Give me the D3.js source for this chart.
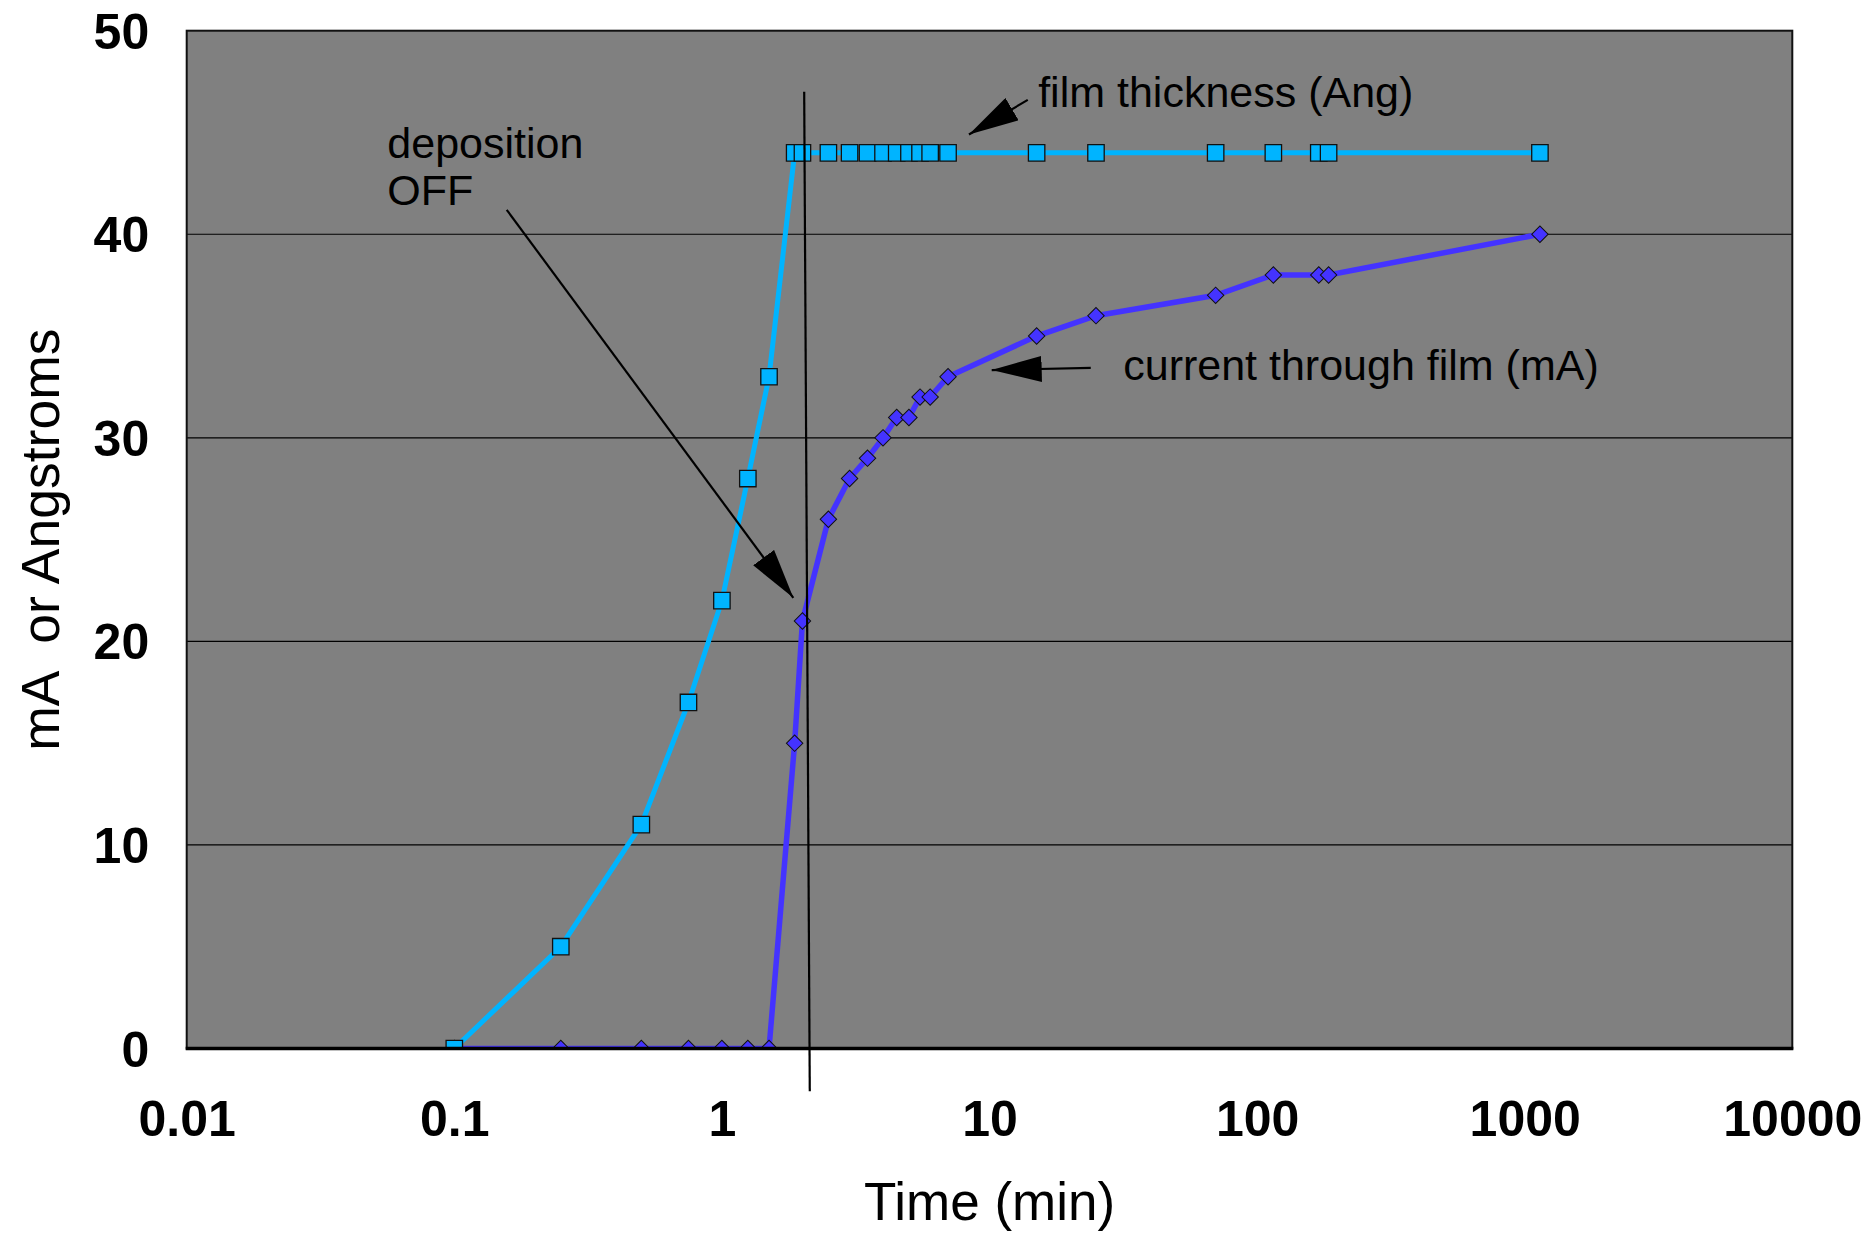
<!DOCTYPE html>
<html>
<head>
<meta charset="utf-8">
<script src="https://cdn.jsdelivr.net/npm/d3@7"></script>
<style>
  body { margin: 0; background: #fff; }
  svg text { font-family: Arial, "Liberation Sans", sans-serif; }
</style>
</head>
<body>
<div id="chart"></div>
<script>
// time in minutes, shared by both series
const times = [0.1, 0.25, 0.5, 0.75, 1, 1.25, 1.5, 1.87, 2, 2.5, 3, 3.5, 4, 4.5, 5, 5.5, 6, 7, 15, 25, 70, 115, 170, 185, 1140];
const thickness = [0, 5, 11, 17, 22, 28, 33, 44, 44, 44, 44, 44, 44, 44, 44, 44, 44, 44, 44, 44, 44, 44, 44, 44, 44];
const current = [0, 0, 0, 0, 0, 0, 0, 15, 21, 26, 28, 29, 30, 31, 31, 32, 32, 33, 35, 36, 37, 38, 38, 38, 40];

const xTicks = [0.01, 0.1, 1, 10, 100, 1000, 10000];
const yTicks = [0, 10, 20, 30, 40, 50];

// annotation anchors in data units (time, value)
const depositionLine = [[2.03, 47], [2.13, -2.1]];
const arrows = [
  [[0.157, 41.2], [1.849, 22.14]],
  [[13.9, 46.6], [8.38, 44.9]],
  [[23.9, 33.44], [10.19, 33.33]],
];
const labels = [
  { t: 0.0562, v: 43.74, text: 'deposition' },
  { t: 0.0562, v: 41.43, text: 'OFF' },
  { t: 15.2, v: 46.23, text: 'film thickness (Ang)' },
  { t: 31.6, v: 32.83, text: 'current through film (mA)' },
];

const width = 1873;
const height = 1233;
const margin = { top: 30.7, right: 80.7, bottom: 184.5, left: 186.7 };
const w = width - margin.left - margin.right;
const h = height - margin.top - margin.bottom;

const svg = d3.select('#chart')
  .append('svg')
  .attr('width', width)
  .attr('height', height);

const g = svg.append('g')
  .attr('transform', `translate(${margin.left},${margin.top})`);

const x = d3.scaleLog().domain([0.01, 10000]).range([0, w]);
const y = d3.scaleLinear().domain([0, 50]).range([h, 0]);

// plot background
g.append('rect')
  .attr('width', w)
  .attr('height', h)
  .attr('fill', '#808080');

g.append('clipPath').attr('id', 'plotClip')
  .append('rect').attr('width', w).attr('height', h);

// gridlines
g.selectAll('.grid')
  .data(yTicks.filter((d) => d > 0 && d < 50))
  .enter()
  .append('line')
  .attr('x1', 0)
  .attr('x2', w)
  .attr('y1', (d) => y(d))
  .attr('y2', (d) => y(d))
  .attr('stroke', '#000')
  .attr('stroke-width', 1.2);

const thickData = times.map((t, i) => ({ t, v: thickness[i] }));
const currData = times.map((t, i) => ({ t, v: current[i] }));

const line = d3.line().x((d) => x(d.t)).y((d) => y(d.v));

const series = g.append('g').attr('clip-path', 'url(#plotClip)');

// current through film
series.append('path')
  .datum(currData)
  .attr('d', line)
  .attr('fill', 'none')
  .attr('stroke', '#4433FF')
  .attr('stroke-width', 5.5);

series.selectAll('.diamond')
  .data(currData)
  .enter()
  .append('path')
  .attr('d', d3.symbol(d3.symbolSquare, 135))
  .attr('transform', (d) => `translate(${x(d.t)},${y(d.v)}) rotate(45)`)
  .attr('fill', '#4433FF')
  .attr('stroke', '#111')
  .attr('stroke-width', 1);

// film thickness
series.append('path')
  .datum(thickData)
  .attr('d', line)
  .attr('fill', 'none')
  .attr('stroke', '#00B4FF')
  .attr('stroke-width', 5);

series.selectAll('.square')
  .data(thickData)
  .enter()
  .append('path')
  .attr('d', d3.symbol(d3.symbolSquare, 270))
  .attr('transform', (d) => `translate(${x(d.t)},${y(d.v)})`)
  .attr('fill', '#00B4FF')
  .attr('stroke', '#111')
  .attr('stroke-width', 1.3);

// plot border
g.append('rect')
  .attr('width', w)
  .attr('height', h)
  .attr('fill', 'none')
  .attr('stroke', '#111')
  .attr('stroke-width', 2);
g.append('line')
  .attr('x1', -1)
  .attr('x2', w + 1)
  .attr('y1', h)
  .attr('y2', h)
  .attr('stroke', '#000')
  .attr('stroke-width', 3.5);

// axes
const xAxis = g.append('g')
  .attr('transform', `translate(0,${h})`)
  .call(d3.axisBottom(x).tickValues(xTicks).tickSize(0).tickFormat(d3.format('~g')));
xAxis.select('.domain').remove();
xAxis.selectAll('text')
  .attr('y', 69.5)
  .attr('dy', '0.35em')
  .attr('fill', '#000')
  .style('font-size', '50px')
  .style('font-weight', 'bold');

const yAxis = g.append('g')
  .call(d3.axisLeft(y).tickValues(yTicks).tickSize(0));
yAxis.select('.domain').remove();
yAxis.selectAll('text')
  .attr('x', -37.5)
  .attr('dy', '0.35em')
  .attr('fill', '#000')
  .style('font-size', '50px')
  .style('font-weight', 'bold');

// axis titles
svg.append('text')
  .attr('x', margin.left + w / 2)
  .attr('y', 1220)
  .attr('text-anchor', 'middle')
  .style('font-size', '53px')
  .text('Time (min)');

svg.append('text')
  .attr('transform', `translate(59,${margin.top + h / 2}) rotate(-90)`)
  .attr('text-anchor', 'middle')
  .style('font-size', '53.5px')
  .style('white-space', 'pre')
  .attr('xml:space', 'preserve')
  .text('mA  or Angstroms');

// annotations
svg.append('defs')
  .append('marker')
  .attr('id', 'head')
  .attr('markerUnits', 'userSpaceOnUse')
  .attr('markerWidth', 50)
  .attr('markerHeight', 26)
  .attr('refX', 50)
  .attr('refY', 13)
  .attr('orient', 'auto')
  .append('path')
  .attr('d', 'M0,0 L50,13 L0,26 Z')
  .attr('fill', '#000');

g.append('line')
  .attr('x1', x(depositionLine[0][0]))
  .attr('y1', y(depositionLine[0][1]))
  .attr('x2', x(depositionLine[1][0]))
  .attr('y2', y(depositionLine[1][1]))
  .attr('stroke', '#000')
  .attr('stroke-width', 2.2);

g.selectAll('.arrow')
  .data(arrows)
  .enter()
  .append('line')
  .attr('x1', (d) => x(d[0][0]))
  .attr('y1', (d) => y(d[0][1]))
  .attr('x2', (d) => x(d[1][0]))
  .attr('y2', (d) => y(d[1][1]))
  .attr('stroke', '#000')
  .attr('stroke-width', 2.2)
  .attr('marker-end', 'url(#head)');

g.selectAll('.label')
  .data(labels)
  .enter()
  .append('text')
  .attr('x', (d) => x(d.t))
  .attr('y', (d) => y(d.v))
  .attr('fill', '#000')
  .style('font-size', '43px')
  .text((d) => d.text);
</script>
</body>
</html>
